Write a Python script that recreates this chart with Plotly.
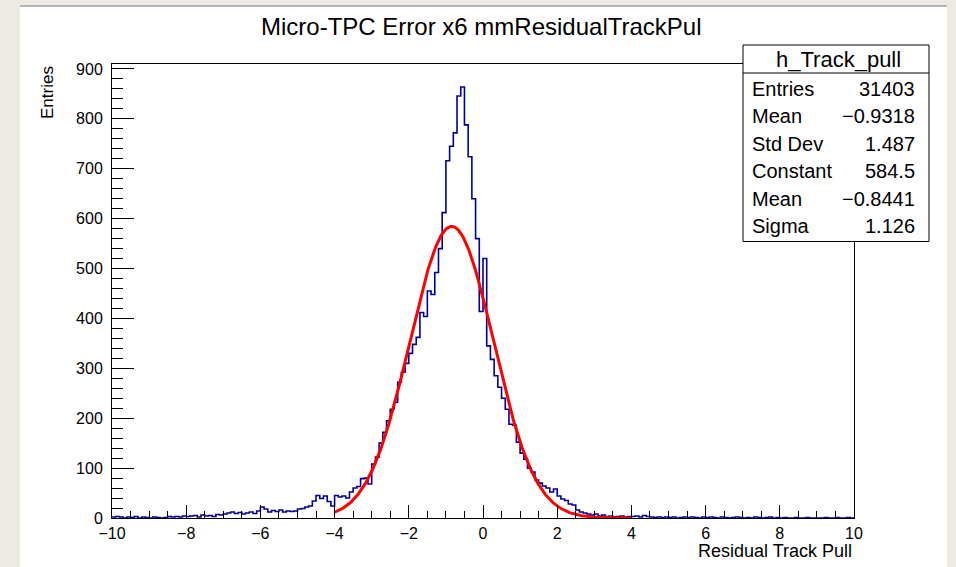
import numpy as np
import plotly.graph_objects as go

# ---------------- data ----------------
bin_lo, bin_hi, n_bins = -10.0, 10.0, 200
counts = [
    2, 3, 2, 0, 2, 1, 3, 0, 2, 1,            # -10 .. -9
    0, 2, 1, 0, 1, 3, 2, 3, 2, 4,            # -9 .. -8
    3, 4, 5, 2, 6, 4, 5, 3, 7, 6,            # -8 .. -7
    8, 10, 12, 9, 11, 8, 10, 12, 9, 14,      # -7 .. -6
    22, 18, 12, 15, 13, 16, 12, 14, 13, 14,  # -6 .. -5
    18, 19, 22, 24, 34, 45, 39, 44, 33, 24,  # -5 .. -4
    45, 42, 44, 40, 52, 60, 63, 79, 80, 68,  # -4 .. -3
    108, 122, 150, 172, 195, 218, 232, 272, 292, 310,  # -3 .. -2
    330, 348, 362, 412, 404, 455, 448, 492, 540, 612,  # -2 .. -1
    716, 745, 772, 846, 864, 788, 724, 640, 560, 414,  # -1 .. 0
    520, 345, 318, 285, 262, 240, 218, 188, 186, 152,  # 0 .. 1
    130, 118, 100, 92, 76, 70, 64, 60, 52, 58,         # 1 .. 2
    44, 38, 35, 28, 26, 16, 12, 10, 8, 6,              # 2 .. 3
    8, 4, 6, 3, 4, 2, 3, 4, 2, 3,            # 3 .. 4
    3, 4, 2, 5, 3, 2, 1, 2, 1, 2,            # 4 .. 5
    1, 2, 0, 1, 2, 1, 2, 1, 0, 2,            # 5 .. 6
    1, 2, 1, 0, 2, 1, 0, 1, 2, 1,            # 6 .. 7
    0, 1, 0, 2, 1, 0, 1, 2, 0, 1,            # 7 .. 8
    0, 1, 0, 0, 1, 0, 0, 1, 0, 0,            # 8 .. 9
    0, 0, 1, 0, 0, 1, 0, 0, 1, 0,            # 9 .. 10
]

fit_constant, fit_mean, fit_sigma = 584.5, -0.8441, 1.126
fit_range = (-4.0, 4.0)

stats_title = "h_Track_pull"
stats_labels = ["Entries", "Mean", "Std Dev", "Constant", "Mean", "Sigma"]
stats_values = ["31403", "\u22120.9318", "1.487", "584.5", "\u22120.8441", "1.126"]

x_ticks = [-10, -8, -6, -4, -2, 0, 2, 4, 6, 8, 10]
y_ticks = [0, 100, 200, 300, 400, 500, 600, 700, 800, 900]

title_text = "Micro-TPC Error x6 mmResidualTrackPul"
x_title = "Residual Track Pull"
y_title = "Entries"

# ---------------- figure ----------------
W, H = 956, 567
L, R, T, B = 112, 854, 64, 518  # plot area in pixels
FONT = "Liberation Sans, Arial, Helvetica, sans-serif"
BEIGE = "#EDEAE3"


def px(xp):
    return (xp - L) / (R - L)


def py(yp):
    return (B - yp) / (B - T)


edges = np.linspace(bin_lo, bin_hi, n_bins + 1)
step_y = list(counts) + [counts[-1]]

fx = np.linspace(fit_range[0], fit_range[1], 400)
fy = fit_constant * np.exp(-0.5 * ((fx - fit_mean) / fit_sigma) ** 2)

fig = go.Figure()
fig.add_trace(go.Scatter(
    x=edges, y=step_y, mode="lines", line=dict(shape="hv", color="#000099", width=1.6),
    showlegend=False, hoverinfo="skip"))
fig.add_trace(go.Scatter(
    x=fx, y=fy, mode="lines", line=dict(color="#ff0000", width=3),
    showlegend=False, hoverinfo="skip"))

tick_font = dict(family=FONT, size=16, color="#000000")

fig.update_xaxes(
    range=[bin_lo, bin_hi], tickvals=x_ticks,
    ticktext=[str(v).replace("-", "\u2212") for v in x_ticks],
    ticks="inside", ticklen=13, tickwidth=1, tickcolor="#000000",
    minor=dict(ticks="inside", dtick=0.5, ticklen=7, tickwidth=1, tickcolor="#000000", showgrid=False),
    showline=True, linecolor="#000000", linewidth=1, mirror=True,
    showgrid=False, zeroline=False, tickfont=tick_font, ticklabelstandoff=1,
)
fig.update_yaxes(
    range=[0, 910], tickvals=y_ticks, ticktext=[str(v) for v in y_ticks],
    ticks="inside", ticklen=22, tickwidth=1, tickcolor="#000000",
    minor=dict(ticks="inside", dtick=20, ticklen=11, tickwidth=1, tickcolor="#000000", showgrid=False),
    showline=True, linecolor="#000000", linewidth=1, mirror=True,
    showgrid=False, zeroline=False, tickfont=tick_font, ticklabelstandoff=5,
)

shapes = [
    # white canvas
    dict(type="rect", xref="paper", yref="paper", x0=px(20), x1=px(947), y0=py(567), y1=py(7),
         fillcolor="#ffffff", line=dict(width=0), layer="below"),
    # grey line at top of canvas
    dict(type="line", xref="paper", yref="paper", x0=px(20), x1=px(947), y0=py(6), y1=py(6),
         line=dict(color="#b4b4b4", width=2), layer="below"),
    # stats box
    dict(type="rect", xref="paper", yref="paper", x0=px(743), x1=px(929), y0=py(241.5), y1=py(45),
         fillcolor="#ffffff", line=dict(color="#000000", width=1), layer="above"),
    dict(type="line", xref="paper", yref="paper", x0=px(743), x1=px(929), y0=py(73), y1=py(73),
         line=dict(color="#000000", width=1), layer="above"),
]

annotations = [
    dict(text=title_text, xref="paper", yref="paper", x=px(481.5), y=py(27),
         xanchor="center", yanchor="middle", showarrow=False,
         font=dict(family=FONT, size=24, color="#000000")),
    dict(text=x_title, xref="paper", yref="paper", x=px(854), y=py(551),
         xanchor="right", yanchor="middle", showarrow=False,
         font=dict(family=FONT, size=18, color="#000000")),
    dict(text=y_title, xref="paper", yref="paper", x=px(47), y=py(93),
         xanchor="center", yanchor="middle", textangle=-90, showarrow=False,
         font=dict(family=FONT, size=17, color="#000000")),
    dict(text=stats_title, xref="paper", yref="paper", x=px(838), y=py(59),
         xanchor="center", yanchor="middle", showarrow=False,
         font=dict(family=FONT, size=22, color="#000000")),
]
for i, (lab, val) in enumerate(zip(stats_labels, stats_values)):
    yc = 88.5 + 27.6 * i
    annotations.append(dict(text=lab, xref="paper", yref="paper", x=px(750), y=py(yc),
                            xanchor="left", yanchor="middle", showarrow=False,
                            font=dict(family=FONT, size=20, color="#000000")))
    annotations.append(dict(text=val, xref="paper", yref="paper", x=px(917), y=py(yc),
                            xanchor="right", yanchor="middle", showarrow=False,
                            font=dict(family=FONT, size=20, color="#000000")))

fig.update_layout(
    width=W, height=H,
    margin=dict(l=L, r=W - R, t=T, b=H - B, pad=0),
    paper_bgcolor=BEIGE, plot_bgcolor="#ffffff",
    shapes=shapes, annotations=annotations, showlegend=False,
)

fig.write_html(
    "out.html",
    config={"displayModeBar": False, "staticPlot": True},
    post_script="document.body.style.margin='0';document.body.style.padding='0';"
                "document.body.style.background='" + BEIGE + "';",
)
